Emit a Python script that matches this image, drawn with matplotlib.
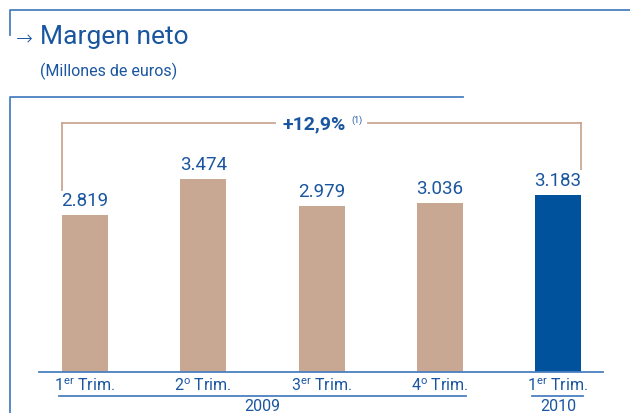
import matplotlib
matplotlib.use("Agg")
import matplotlib.pyplot as plt
from matplotlib.lines import Line2D

plt.rcParams['font.family'] = ['Roboto', 'DejaVu Sans']
plt.rcParams['mathtext.fontset'] = 'custom'
plt.rcParams['mathtext.rm'] = 'Roboto'

# datos
trimestres = ["1$^{\\mathrm{er}}$ Trim.", "2$^{\\mathrm{o}}$ Trim.", "3$^{\\mathrm{er}}$ Trim.",
              "4$^{\\mathrm{o}}$ Trim.", "1$^{\\mathrm{er}}$ Trim."]
margen = [2819, 3474, 2979, 3036, 3183]
etiquetas = ["2.819", "3.474", "2.979", "3.036", "3.183"]
anios = ["2009", "2010"]
variacion = "+12,9%"

beige = "#C9A893"
azul = "#00529C"
azul_txt = "#1A56A0"
azul_linea = "#4A80C0"

W, H = 630, 414
fig = plt.figure(figsize=(W / 100, H / 100), dpi=100)

# capa de fondo en pixeles (marcos y titulo)
bg = fig.add_axes([0, 0, 1, 1])
bg.set_xlim(0, W)
bg.set_ylim(H, 0)
bg.axis("off")
bg.plot([10, 10, W], [36, 11, 11], color=azul_linea, lw=1.3)
bg.plot([10, 10, 463], [H, 98, 98], color=azul_linea, lw=1.3)
bg.text(16, 40, "\u2192", fontsize=14.5, color=azul_txt, va="center", ha="left",
        family="DejaVu Sans", fontweight="light")
bg.text(40, 37, "Margen neto", fontsize=19, color=azul_txt, va="center", ha="left")
bg.text(40, 71, "(Millones de euros)", fontsize=11.5, color=azul_txt, va="center", ha="left")

# ejes de barras
x0, x1 = 39, 603
base = 373
px_unit = (373 - 216) / margen[0]
top = 100
ax = fig.add_axes([x0 / W, (H - base) / H, (x1 - x0) / W, (base - top) / H])
paso = 118.25
ax.set_xlim((x0 - 85) / paso, (x1 - 85) / paso)
ax.set_ylim(0, (base - top) / px_unit)
ax.axis("off")

xs = list(range(len(margen)))
colores = [beige] * 4 + [azul]
ax.bar(xs, margen, width=46 / paso, color=colores)
ax.axhline(0, color=azul_linea, lw=1.3, clip_on=False)

for x, v, t in zip(xs, margen, etiquetas):
    ax.text(x, v + 6 / px_unit, t, ha="center", va="bottom", fontsize=13.5, color=azul_txt)

# corchete de variacion
yb = (base - 124) / px_unit
izq = xs[0] - 23 / paso
der = xs[-1] + 23 / paso
ax.plot([izq, izq], [margen[0] + 25 / px_unit, yb], color=beige, lw=1.3, clip_on=False)
ax.plot([der, der], [margen[-1] + 26 / px_unit, yb], color=beige, lw=1.3, clip_on=False)
ax.plot([izq, (275 - 85) / paso], [yb, yb], color=beige, lw=1.3, clip_on=False)
ax.plot([(368 - 85) / paso, der], [yb, yb], color=beige, lw=1.3, clip_on=False)
ax.text((314 - 85) / paso, yb, variacion, ha="center", va="center", fontsize=14,
        fontweight="bold", color=azul_txt)
ax.text((357 - 85) / paso, yb + 4 / px_unit, "(1)", ha="center", va="center", fontsize=6.5,
        color=azul_txt)

# etiquetas del eje
for x, t in zip(xs, trimestres):
    ax.text(x, -4 / px_unit, t, ha="center", va="top", fontsize=11.5, color=azul_txt)

yl = -24 / px_unit
ax.add_line(Line2D([(59 - 85) / paso, (466 - 85) / paso], [yl, yl], color=azul_linea,
                   lw=1.3, clip_on=False))
ax.add_line(Line2D([(532 - 85) / paso, (583 - 85) / paso], [yl, yl], color=azul_linea,
                   lw=1.3, clip_on=False))
ax.text(1.5, yl - 2 / px_unit, anios[0], ha="center", va="top", fontsize=11.5, color=azul_txt)
ax.text(4, yl - 2 / px_unit, anios[1], ha="center", va="top", fontsize=11.5, color=azul_txt)

fig.savefig("out.png", dpi=100)
